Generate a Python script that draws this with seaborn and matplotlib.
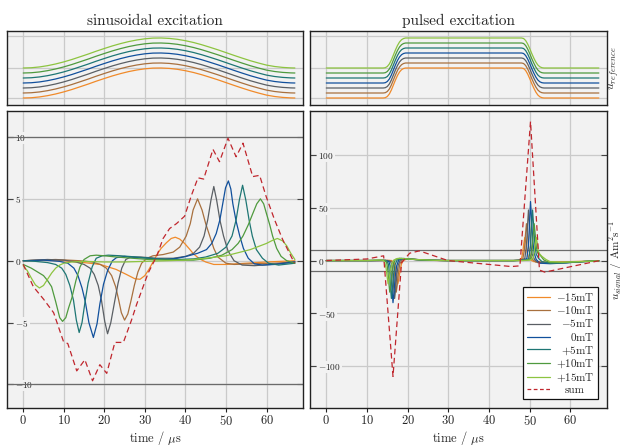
import matplotlib
matplotlib.use("Agg")
import matplotlib.pyplot as plt
from matplotlib.lines import Line2D
import numpy as np
import pandas as pd
import seaborn as sns

# ---------------------------------------------------------------
# data
# ---------------------------------------------------------------
fields = ["-15", "-10", "-5", "0", "+5", "+10", "+15"]
field_mT = [-15, -10, -5, 0, 5, 10, 15]
colors = ["#f08a2a", "#a8703e", "#5a5f64", "#11509c", "#1e7674", "#4f9a3e", "#8dc440"]
sum_color = "#c0262d"

# excitation fields (top panels), mT
sin_ref_t = [0, 2, 4, 6, 8, 10, 12, 14, 16, 18, 20, 22, 24, 26, 28, 30, 32, 34,
             36, 38, 40, 42, 44, 46, 48, 50, 52, 54, 56, 58, 60, 62, 64, 66, 67]
sin_ref_u = [0, 0.26, 1.05, 2.33, 4.03, 6.1, 8.5, 11.2, 13.9, 16.8, 19.5, 22.1, 24.4,
             26.4, 28.0, 29.2, 29.9, 30.0, 29.6, 28.7, 27.3, 25.5, 23.3, 20.8, 18.2,
             15.4, 12.6, 9.9, 7.3, 5.0, 2.9, 1.5, 0.6, 0.1, 0]
pul_ref_t = [0, 14, 14.5, 15, 15.5, 16, 16.5, 17, 17.5, 18, 18.5, 19, 19.5, 48,
             48.5, 49, 49.5, 50, 50.5, 51, 51.5, 52, 52.5, 53, 53.5, 67]
pul_ref_u = [0, 0, 0.3, 1.5, 4, 8, 13, 18, 22.5, 26, 28.3, 29.5, 30, 30,
             29.5, 27.5, 24, 19.5, 14.5, 10, 6, 3, 1.2, 0.3, 0, 0]

# signals, sinusoidal excitation
sin_m15_t = [0, 5, 10, 15, 19, 22.9, 25.4, 27.5, 28.8, 30, 31, 32, 33, 34, 35.3, 36.5,
             37.5, 38.6, 39.8, 41, 42, 43.5, 45, 47, 50, 55, 60, 67]
sin_m15_u = [0, 0.05, 0, -0.15, -0.3, -0.7, -1.1, -1.45, -1.5, -1.2, -0.7, -0.1, 0.5, 1.0,
             1.45, 1.8, 1.9, 1.75, 1.4, 0.95, 0.55, 0.15, -0.1, -0.3, -0.3, -0.2, -0.1, 0]
sin_m10_t = [0, 8, 14, 17, 19, 20.5, 21.8, 22.8, 23.5, 24.2, 25, 25.8, 26.6, 27.4, 28.3,
             29.2, 30.5, 32, 34.5, 37, 38.6, 40.2, 41.2, 41.9, 43, 44.1, 45, 46, 47, 48,
             50, 52, 56, 62, 67]
sin_m10_u = [0, 0.1, 0, -0.1, -0.3, -0.6, -1.2, -2.1, -3.1, -4.2, -4.8, -4.3, -3.2, -2.0,
             -0.9, -0.2, 0.2, 0.4, 0.5, 0.7, 1.1, 2.0, 3.0, 4.1, 5.0, 4.1, 3.0, 2.0, 1.0,
             0.3, -0.2, -0.3, -0.25, -0.2, -0.1]
sin_m5_t = [0, 6, 10, 13, 15, 16.5, 17.5, 18.5, 19.3, 20.1, 20.8, 21.6, 22.6, 23.4, 24.3,
            25.3, 26.5, 29, 33, 37, 40, 42, 43.5, 44.6, 45.5, 46.3, 47, 47.7, 48.5, 49.4,
            50.5, 52, 54, 57, 61, 67]
sin_m5_u = [0, 0.1, 0.05, -0.1, -0.3, -0.6, -1.1, -2.0, -3.2, -4.9, -5.9, -5.0, -3.2, -1.8,
            -0.6, 0.1, 0.3, 0.3, 0.2, 0.2, 0.35, 0.6, 1.1, 2.0, 3.3, 4.9, 6.0, 4.9, 3.3, 2.0,
            0.8, 0.0, -0.35, -0.4, -0.3, -0.1]
sin_0_t = [0, 5, 9, 11, 12.5, 13.5, 14.5, 15.3, 16.2, 17.3, 18.2, 18.9, 19.8, 20.8, 22, 23,
           25, 28, 31, 35, 38, 40.2, 43, 45.2, 46.5, 47.6, 48.5, 49.2, 49.9, 50.6, 51.2,
           51.7, 52.5, 53.4, 54.3, 55.5, 57, 59, 62, 67]
sin_0_u = [0, 0.05, -0.05, -0.2, -0.6, -1.2, -2.2, -3.3, -5.0, -6.2, -5.1, -3.5, -1.9, -0.8,
           0.0, 0.25, 0.35, 0.25, 0.2, 0.1, 0.2, 0.35, 0.6, 0.9, 1.4, 2.2, 3.3, 4.6, 5.9,
           6.45, 5.8, 4.6, 3.2, 2.0, 1.0, 0.2, -0.25, -0.35, -0.3, -0.1]
sin_p5_t = [0, 3, 6, 8, 9.5, 10.5, 11.5, 12.4, 13.1, 13.8, 14.5, 15.3, 16, 17, 18, 19.5, 21,
            24, 28, 33, 38, 42, 45, 48, 50, 51.5, 52.5, 53.3, 54.1, 54.9, 55.7, 56.5, 57.5,
            59, 60.5, 63, 67]
sin_p5_u = [0, -0.05, -0.15, -0.3, -0.6, -1.1, -2.0, -3.2, -4.8, -5.8, -5.0, -3.2, -1.8,
            -0.5, 0.2, 0.4, 0.45, 0.4, 0.3, 0.15, 0.1, 0.15, 0.3, 0.6, 1.1, 2.0, 3.3, 4.9,
            6.1, 4.9, 3.3, 2.0, 0.9, 0.2, -0.2, -0.35, -0.2]
sin_p10_t = [0, 2, 4, 5, 6, 7, 8, 9, 9.7, 10.5, 11.2, 12, 13, 14, 15, 16.5, 18, 20, 23, 27,
             31, 36, 42, 46, 49, 51.5, 53, 54.2, 55.5, 56.6, 57.6, 58.5, 59.3, 60, 60.8,
             61.5, 62.5, 63.6, 65, 67]
sin_p10_u = [-0.3, -0.6, -1.0, -1.2, -1.6, -2.1, -3.3, -4.6, -4.9, -4.6, -3.8, -3.0, -1.6,
             -0.5, 0.1, 0.4, 0.45, 0.4, 0.3, 0.2, 0.1, 0.05, 0.05, 0.2, 0.45, 0.9, 1.4, 2.0,
             2.9, 3.8, 4.6, 5.0, 4.6, 3.8, 2.9, 2.0, 1.0, 0.35, 0.0, -0.2]
sin_p15_t = [0, 1, 2, 3, 4, 5, 6, 7, 8, 9, 10, 12, 15, 20, 25, 30, 35, 40, 45, 50, 53, 56,
             58, 60, 61.5, 62.7, 64, 65, 66, 67]
sin_p15_u = [-0.4, -0.8, -1.4, -1.95, -2.2, -2.0, -1.5, -1.0, -0.6, -0.35, -0.2, -0.1,
             -0.05, -0.1, -0.1, -0.05, 0.0, 0.05, 0.2, 0.4, 0.65, 0.9, 1.15, 1.4, 1.65, 1.8,
             1.6, 1.2, 0.6, 0.1]
sin_sum_t = [0, 2.5, 5, 7.5, 9.9, 11, 13.2, 15.2, 17.1, 18.9, 20.6, 22.6, 24.7, 26.7, 28,
             30.8, 32.9, 34.5, 36.1, 37.8, 39.8, 41.5, 43.1, 44.5, 46.8, 48.4, 50.5, 52.5,
             54.2, 56.6, 58.3, 59.9, 62, 64, 66.9]
sin_sum_u = [-0.3, -2.1, -3.1, -4.2, -6.5, -6.7, -8.9, -8.0, -9.7, -8.4, -9.1, -6.6, -6.6,
             -4.8, -3.5, -1.0, 0.35, 1.8, 2.6, 3.0, 3.6, 5.3, 6.7, 6.6, 9.0, 8.0, 9.9, 8.4,
             9.5, 6.8, 6.9, 5.2, 3.3, 1.7, -0.2]

# signals, pulsed excitation
pul_m15_t = [0, 12, 16, 16.7, 17.0, 17.35, 17.6, 17.85, 18.15, 18.5, 19, 20, 22.5, 27, 30,
             46, 47.3, 48, 48.3, 48.55, 48.8, 49.05, 49.35, 49.7, 50.3, 51, 55, 60, 67]
pul_m15_u = [0, 0, 0.1, -2, -7, -15, -22, -17, -9, -3, 0.3, 1.5, 0.8, 0.1, 0,
             0, 0.3, 2, 8, 16, 22, 17, 8, 3, 0.5, -1, -1.5, -1, -0.3]
pul_m10_t = [0, 12, 15.5, 16.2, 16.5, 16.75, 16.95, 17.2, 17.45, 17.75, 18.1, 18.6, 19.7,
             22, 26, 30, 46, 47.5, 48.3, 48.7, 48.95, 49.2, 49.45, 49.75, 50.1, 50.7, 51.5,
             55, 60, 67]
pul_m10_u = [0, 0, 0.1, -1, -3, -10, -20, -30, -23, -11, -3, 0.5, 1.6, 1, 0.2, 0, 0, 0.3,
             1.5, 10, 24, 35, 25, 12, 5, 1, -1.5, -2, -1.5, -0.3]
pul_m5_t = [0, 11, 15, 15.8, 16.1, 16.35, 16.55, 16.8, 17.05, 17.35, 17.7, 18.2, 19.3, 21.5,
            25, 30, 46, 48, 48.8, 49.2, 49.45, 49.7, 49.95, 50.25, 50.6, 51.2, 52, 55, 59,
            63, 67]
pul_m5_u = [0, 0, 0.1, -1, -4, -13, -24, -36, -27, -13, -4, 0.5, 1.8, 1.2, 0.3, 0, 0, 0.3,
            2, 14, 32, 48, 34, 16, 6, 1, -2, -2.5, -2, -1, -0.3]
pul_0_t = [0, 11, 14.5, 15.4, 15.7, 15.95, 16.15, 16.4, 16.65, 16.95, 17.3, 17.8, 19, 21,
           25, 30, 46, 48.5, 49.3, 49.7, 49.95, 50.2, 50.45, 50.75, 51.1, 51.6, 52.5, 55,
           59, 63, 67]
pul_0_u = [0, 0, 0.1, -1, -5, -15, -27, -40, -30, -15, -5, 0.5, 2, 1.2, 0.3, 0, 0, 0.3, 2,
           15, 35, 56, 40, 19, 7, 1, -2.5, -3, -2.2, -1, -0.3]
pul_p5_t = [0, 11, 14, 15.0, 15.3, 15.55, 15.75, 16.0, 16.25, 16.55, 16.9, 17.4, 18.5,
            20.5, 24, 29, 46, 49, 49.8, 50.2, 50.45, 50.7, 50.95, 51.25, 51.6, 52.2, 53,
            55, 59, 63, 67]
pul_p5_u = [0, 0, 0.2, -1, -4, -13, -24, -36, -27, -13, -4, 0.5, 2, 1.3, 0.5, 0, 0, 0.3, 2,
            14, 32, 48, 34, 16, 6, 2, -1, -2.5, -2, -1, -0.3]
pul_p10_t = [0, 10, 13.5, 14.6, 14.9, 15.15, 15.35, 15.6, 15.85, 16.15, 16.5, 17, 18, 20,
             23, 28, 31, 46, 49, 50.2, 50.6, 50.85, 51.1, 51.35, 51.65, 52, 52.6, 53.5, 55,
             58, 62, 67]
pul_p10_u = [0, 0, 0.3, 0.2, -3, -10, -20, -30, -23, -11, -3, 1, 2.2, 1.5, 0.7, 0.1, 0, 0,
             0.2, 1.5, 10, 24, 35, 25, 12, 7, 5, 0.5, -2, -2, -1.2, -0.3]
pul_p15_t = [0, 10, 13, 14, 14.4, 14.7, 14.95, 15.2, 15.45, 15.75, 16.1, 16.6, 17.5, 19, 22,
             27, 30, 48, 50, 50.8, 51.1, 51.35, 51.6, 51.85, 52.1, 52.5, 53, 54, 55, 58, 62,
             67]
pul_p15_u = [0, 0, 0.5, 0.3, -2, -7, -15, -22, -17, -9, -3, 0.5, 2, 1.8, 1, 0.2, 0, 0, 0.3,
             2, 8, 16, 22, 17, 9, 6, 4, 1, -1, -1.5, -1, -0.3]
pul_sum_t = [0, 10, 14.1, 16.4, 18.5, 20.5, 22.9, 29.9, 45.5, 47.6, 50.2, 52.4, 53.7, 67.2]
pul_sum_u = [0, 1.5, 4.5, -110, -2, 7, 9.2, 0, -5.7, -5, 132, -9, -11, 0]

sin_t = [sin_m15_t, sin_m10_t, sin_m5_t, sin_0_t, sin_p5_t, sin_p10_t, sin_p15_t]
sin_u = [sin_m15_u, sin_m10_u, sin_m5_u, sin_0_u, sin_p5_u, sin_p10_u, sin_p15_u]
pul_t = [pul_m15_t, pul_m10_t, pul_m5_t, pul_0_t, pul_p5_t, pul_p10_t, pul_p15_t]
pul_u = [pul_m15_u, pul_m10_u, pul_m5_u, pul_0_u, pul_p5_u, pul_p10_u, pul_p15_u]


def long_form(ts, us):
    parts = [pd.DataFrame({"t": t, "u": u, "field": f}) for t, u, f in zip(ts, us, fields)]
    return pd.concat(parts, ignore_index=True)


def ref_form(t, u):
    parts = [pd.DataFrame({"t": t, "u": np.asarray(u) + b, "field": f})
             for b, f in zip(field_mT, fields)]
    return pd.concat(parts, ignore_index=True)


# ---------------------------------------------------------------
# style
# ---------------------------------------------------------------
sns.set_style("ticks")
plt.rcParams["font.family"] = ["cmr10", "DejaVu Serif"]
plt.rcParams["mathtext.fontset"] = "cm"
plt.rcParams["axes.formatter.use_mathtext"] = True

W, H = 620, 446
fig = plt.figure(figsize=(W / 100, H / 100), dpi=100)


def px_axes(x0, y0, x1, y1):
    return fig.add_axes([x0 / W, 1 - y1 / H, (x1 - x0) / W, (y1 - y0) / H])


ax_rs = px_axes(7, 31, 303, 105)
ax_rp = px_axes(310, 31, 607, 105)
ax_ss = px_axes(7, 111, 303, 408)
ax_sp = px_axes(310, 111, 607, 408)

palette = dict(zip(fields, colors))
lw = 0.9

sns.lineplot(data=ref_form(sin_ref_t, sin_ref_u), x="t", y="u", hue="field", palette=palette,
             estimator=None, sort=False, legend=False, lw=lw, ax=ax_rs)
sns.lineplot(data=ref_form(pul_ref_t, pul_ref_u), x="t", y="u", hue="field", palette=palette,
             estimator=None, sort=False, legend=False, lw=lw, ax=ax_rp)
sns.lineplot(data=long_form(sin_t, sin_u), x="t", y="u", hue="field", palette=palette,
             estimator=None, sort=False, legend=False, lw=lw, ax=ax_ss)
sns.lineplot(data=long_form(pul_t, pul_u), x="t", y="u", hue="field", palette=palette,
             estimator=None, sort=False, legend=False, lw=lw, ax=ax_sp)
sns.lineplot(x=sin_sum_t, y=sin_sum_u, color=sum_color, lw=lw, ls=(0, (4.5, 2.8)),
             estimator=None, sort=False, ax=ax_ss)
sns.lineplot(x=pul_sum_t, y=pul_sum_u, color=sum_color, lw=lw, ls=(0, (4.5, 2.8)),
             estimator=None, sort=False, ax=ax_sp)

for ax in (ax_rs, ax_rp, ax_ss, ax_sp):
    ax.set_facecolor("#f2f2f2")
    ax.set_xlim(-4, 69)
    ax.set_xticks(range(0, 70, 10))
    ax.grid(True, color="#cacaca", lw=0.9)
    ax.set_axisbelow(True)
    for s in ax.spines.values():
        s.set_color("#222222")
        s.set_linewidth(1.0)
    ax.set_xlabel("")
    ax.set_ylabel("")

for ax in (ax_rs, ax_rp):
    ax.set_ylim(-22, 52)
    ax.set_yticks([-15, 15, 47])
    ax.tick_params(length=0, labelbottom=False, labelleft=False)

ax_ss.set_ylim(-11.9, 12.1)
ax_ss.set_yticks([-10, -5, 0, 5, 10])
ax_sp.set_ylim(-140, 142)
ax_sp.set_yticks([-100, -50, 0, 50, 100])

for ax in (ax_ss, ax_sp):
    ax.axhline(10, color="#6b6b6b", lw=0.9, zorder=1)
    ax.axhline(-10, color="#6b6b6b", lw=0.9, zorder=1)
    ax.tick_params(axis="x", direction="out", length=3, pad=1.5, labelsize=9,
                   color="#222222")
    ax.tick_params(axis="y", direction="in", length=4.5, pad=-6, labelsize=6.7,
                   right=True, color="#444444")
    for lab in ax.get_yticklabels():
        lab.set_ha("left")
        lab.set_bbox(dict(facecolor="#f2f2f2", edgecolor="none", pad=0.6))
    ax.set_xlabel(r"time / $\mu$s", fontsize=9, labelpad=0.3)

ax_rs.set_title("sinusoidal excitation", fontsize=11, pad=4)
ax_rp.set_title("pulsed excitation", fontsize=11, pad=4)

ax_rp.yaxis.set_label_position("right")
ax_rp.set_ylabel(r"$u_{reference}$", fontsize=8.5, labelpad=0.0)
ax_sp.yaxis.set_label_position("right")
ax_sp.set_ylabel(r"$u_{signal}$ / Am$^2$s$^{-1}$", fontsize=8)
ax_sp.yaxis.set_label_coords(1.0 + 1.0 / 297, 0.5)

# legend, labels right-aligned like the original
leg_labels = [r"$-15$mT", r"$-10$mT", r"$-5$mT", r"$0$mT", r"$+5$mT", r"$+10$mT",
              r"$+15$mT", "sum"]
handles = [Line2D([], [], color=c, lw=lw) for c in colors]
handles.append(Line2D([], [], color=sum_color, lw=lw, ls=(0, (3, 2))))
leg = ax_sp.legend(handles, leg_labels, loc="lower right", fontsize=8, frameon=True,
                   fancybox=False, framealpha=1, edgecolor="#111111", handlelength=2.1,
                   labelspacing=0.12, borderaxespad=0.8, handletextpad=0.5,
                   borderpad=0.35)
leg.get_frame().set_linewidth(0.9)

renderer = fig.canvas.get_renderer()
texts = leg.get_texts()
widths = [t.get_window_extent(renderer).width for t in texts]
shift = max(widths)
for t, w in zip(texts[:-1], widths[:-1]):
    t.set_position((shift - w, 0))
texts[-1].set_position(((shift - widths[-1]) / 2, 0))

fig.savefig("out.png", dpi=100)
